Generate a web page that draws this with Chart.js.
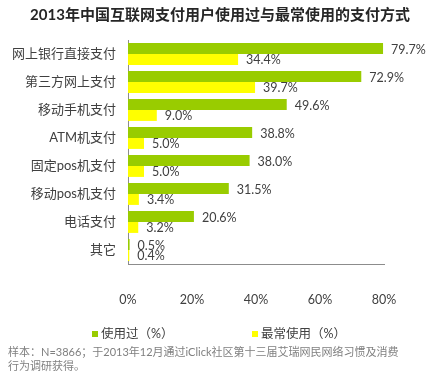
<!DOCTYPE html>
<html>
<head>
<meta charset="utf-8">
<script src="https://cdn.jsdelivr.net/npm/chart.js@4/dist/chart.umd.min.js"></script>
<style>
  html, body { margin: 0; padding: 0; background: #fff; }
  #wrap { width: 440px; height: 386px; position: relative; }
</style>
</head>
<body>
<div id="wrap"><canvas id="chart" width="440" height="386"></canvas></div>
<script>
// chart data
const categories = ['网上银行直接支付', '第三方网上支付', '移动手机支付', 'ATM机支付', '固定pos机支付', '移动pos机支付', '电话支付', '其它'];
const usedValues = [79.7, 72.9, 49.6, 38.8, 38.0, 31.5, 20.6, 0.5];
const mostUsedValues = [34.4, 39.7, 9.0, 5.0, 5.0, 3.4, 3.2, 0.4];
const seriesNames = ['使用过（%）', '最常使用（%）'];
const xTicks = [0, 20, 40, 60, 80];

const titleText = '2013年中国互联网支付用户使用过与最常使用的支付方式';
const noteLines = ['样本：N=3866；于2013年12月通过iClick社区第十三届艾瑞网民网络习惯及消费', '行为调研获得。'];

const FONT = "Lato, 'Noto Sans CJK SC', sans-serif";
const TEXT = '#404040';

// value labels to the right of each bar
const valueLabels = {
    id: 'valueLabels',
    afterDatasetsDraw(chart) {
        const ctx = chart.ctx;
        ctx.save();
        ctx.font = '12.5px ' + FONT;
        ctx.fillStyle = TEXT;
        ctx.textBaseline = 'middle';
        ctx.textAlign = 'left';
        chart.data.datasets.forEach((ds, i) => {
            const meta = chart.getDatasetMeta(i);
            meta.data.forEach((bar, j) => {
                ctx.fillText(ds.data[j].toFixed(1) + '%', bar.x + 8, bar.y + 1);
            });
        });
        ctx.restore();
    }
};

// title, legend and source note drawn around the plot
const decorations = {
    id: 'decorations',
    afterDraw(chart) {
        const ctx = chart.ctx;
        ctx.save();
        ctx.textBaseline = 'middle';

        ctx.font = 'bold 15px ' + FONT;
        ctx.fillStyle = '#262626';
        ctx.textAlign = 'center';
        ctx.fillText(titleText, 220, 15);

        ctx.textAlign = 'left';
        ctx.font = '12.5px ' + FONT;
        const legendX = [92, 252];
        chart.data.datasets.forEach((ds, i) => {
            ctx.fillStyle = ds.backgroundColor;
            ctx.fillRect(legendX[i], 331, 6, 6);
            ctx.fillStyle = TEXT;
            ctx.fillText(ds.label, legendX[i] + 9, 334);
        });

        ctx.font = '11px ' + FONT;
        ctx.fillStyle = '#7f7f7f';
        noteLines.forEach((line, i) => ctx.fillText(line, 8, 352 + i * 14));
        ctx.restore();
    }
};

new Chart(document.getElementById('chart'), {
    type: 'bar',
    data: {
        labels: categories,
        datasets: [{
            label: seriesNames[0],
            data: usedValues,
            backgroundColor: '#99cc00',
            barPercentage: 1,
            categoryPercentage: 0.78
        }, {
            label: seriesNames[1],
            data: mostUsedValues,
            backgroundColor: '#ffff00',
            barPercentage: 1,
            categoryPercentage: 0.78
        }]
    },
    options: {
        indexAxis: 'y',
        responsive: false,
        animation: false,
        layout: {
            padding: { top: 40, left: 0, right: 56, bottom: 59 }
        },
        plugins: {
            legend: { display: false },
            tooltip: { enabled: false }
        },
        scales: {
            x: {
                min: 0,
                max: 80,
                afterBuildTicks: (axis) => {
                    axis.ticks = xTicks.map(v => ({ value: v }));
                },
                grid: { display: false },
                border: { color: '#8c8c8c' },
                ticks: {
                    color: TEXT,
                    font: { family: FONT, size: 12.5 },
                    padding: 20,
                    callback: v => v + '%'
                }
            },
            y: {
                afterFit: (axis) => { axis.width = 128; },
                grid: { display: false },
                border: { color: '#8c8c8c' },
                ticks: {
                    color: TEXT,
                    font: { family: FONT, size: 13 },
                    padding: 4
                }
            }
        }
    },
    plugins: [valueLabels, decorations]
});
</script>
</body>
</html>
